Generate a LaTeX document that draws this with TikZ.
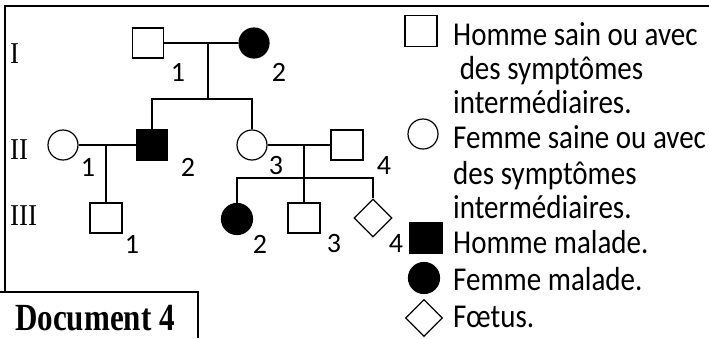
\documentclass[tikz,border=0pt]{standalone}
\usepackage{fontspec}
\usepackage{graphicx}
\setmainfont{Carlito}
\newfontfamily\timesfont{Liberation Serif}
\usetikzlibrary{shapes.geometric}
\newcommand{\tallL}[1]{\scalebox{1}[1.15]{#1}}
\newcommand{\tallR}[1]{\scalebox{1}[1.12]{#1}}
\tikzset{
  pline/.style={line width=1.3pt},
  sq/.style={draw, line width=1.2pt, minimum width=31pt, minimum height=30pt, inner sep=0pt, rectangle},
  ci/.style={draw, line width=1.2pt, circle, minimum size=30pt, inner sep=0pt},
  fsq/.style={sq, fill=black},
  fci/.style={ci, fill=black},
  dia/.style={draw, line width=1.2pt, diamond, minimum width=38pt, minimum height=38pt, inner sep=0pt},
  num/.style={inner sep=0pt, font=\fontsize{28}{30}\selectfont},
  gen/.style={inner sep=0pt, anchor=base west, font=\timesfont\fontsize{27}{30}\selectfont},
  leg/.style={inner sep=0pt, anchor=base west, font=\fontsize{29}{35}\selectfont},
  frame/.style={line width=1.6pt}
}
\begin{document}
\begin{tikzpicture}[x=1pt,y=-1pt]
\useasboundingbox (0,0) rectangle (709,338);
% frame
\draw[frame, line width=2.2pt] (4,6) -- (709,6);
\draw[frame] (5,6) -- (5,292);
\draw[frame] (0,292) -- (198,292) -- (198,338);
\node[inner sep=0pt, anchor=base, font=\timesfont\bfseries\fontsize{32}{36}\selectfont] (doc) at (95,330) {\scalebox{0.97}[1.2]{Document 4}};
% generations
\node[gen] (gI) at (10,63) {\tallR{I}};
\node[gen] (gII) at (10,159) {\tallR{II}};
\node[gen] (gIII) at (10,225) {\tallR{III}};
% generation I
\node[sq] (i1) at (148,43) {};
\node[fci] (i2) at (254,43) {};
% generation II
\node[ci] (ii1) at (63,145) {};
\node[fsq] (ii2) at (152,145) {};
\node[ci] (ii3) at (252,145) {};
\node[sq, minimum width=32pt] (ii4) at (347,145) {};
% generation III
\node[sq, minimum width=32pt] (iii1) at (106,218) {};
\node[fci, minimum size=31pt] (iii2) at (237,219) {};
\node[sq, minimum width=32pt] (iii3) at (304,218) {};
\node[dia] (iii4) at (373,218) {};
% connectors
\coordinate (m1) at (208,43);
\coordinate (s1) at (208,99);
\draw[pline] (i1.east) -- (i2.west);
\draw[pline] (m1) -- (s1);
\draw[pline] (ii2.north) |- (ii3.north |- s1) -- (ii3.north);
\coordinate (m2) at (106,145);
\draw[pline] (ii1.east) -- (ii2.west);
\draw[pline] (m2) -- (iii1.north);
\coordinate (m3) at (304,145);
\coordinate (s3) at (304,178);
\draw[pline] (ii3.east) -- (ii4.west);
\draw[pline] (m3) -- (iii3.north);
\draw[pline] (iii2.north) |- (iii4.north |- s3) -- (iii4.north);
% labels
\node[num] (li1) at (178,72) {1};
\node[num] (li2) at (279,72) {2};
\node[num] (lii1) at (88,167) {1};
\node[num] (lii2) at (188,167) {2};
\node[num] (lii3) at (276,166) {3};
\node[num] (lii4) at (384,166) {4};
\node[num] (liii1) at (132,244) {1};
\node[num] (liii2) at (260,244) {2};
\node[num] (liii3) at (334,244) {3};
\node[num] (liii4) at (396,244) {4};
% legend
\node[sq, minimum width=32pt, minimum height=31pt] (k1) at (421,31) {};
\node[ci] (k2) at (423,134) {};
\node[fsq, minimum width=32pt] (k3) at (426,238) {};
\node[fci, minimum size=31pt] (k4) at (424,278) {};
\node[dia, minimum width=37pt, minimum height=37pt] (k5) at (424,318) {};
\node[leg] (t1) at (453,45) {\tallL{Homme sain ou avec}};
\node[leg] (t2) at (453,79) {\tallL{\ des symptômes}};
\node[leg] (t3) at (453,113) {\tallL{intermédiaires.}};
\node[leg] (t4) at (453,148) {\tallL{Femme saine ou avec}};
\node[leg] (t5) at (453,184) {\tallL{des symptômes}};
\node[leg] (t6) at (453,218) {\tallL{intermédiaires.}};
\node[leg] (t7) at (453,253) {\tallL{Homme malade.}};
\node[leg] (t8) at (453,290) {\tallL{Femme malade.}};
\node[leg] (t9) at (453,327) {\tallL{Fœtus.}};
\end{tikzpicture}
\end{document}
